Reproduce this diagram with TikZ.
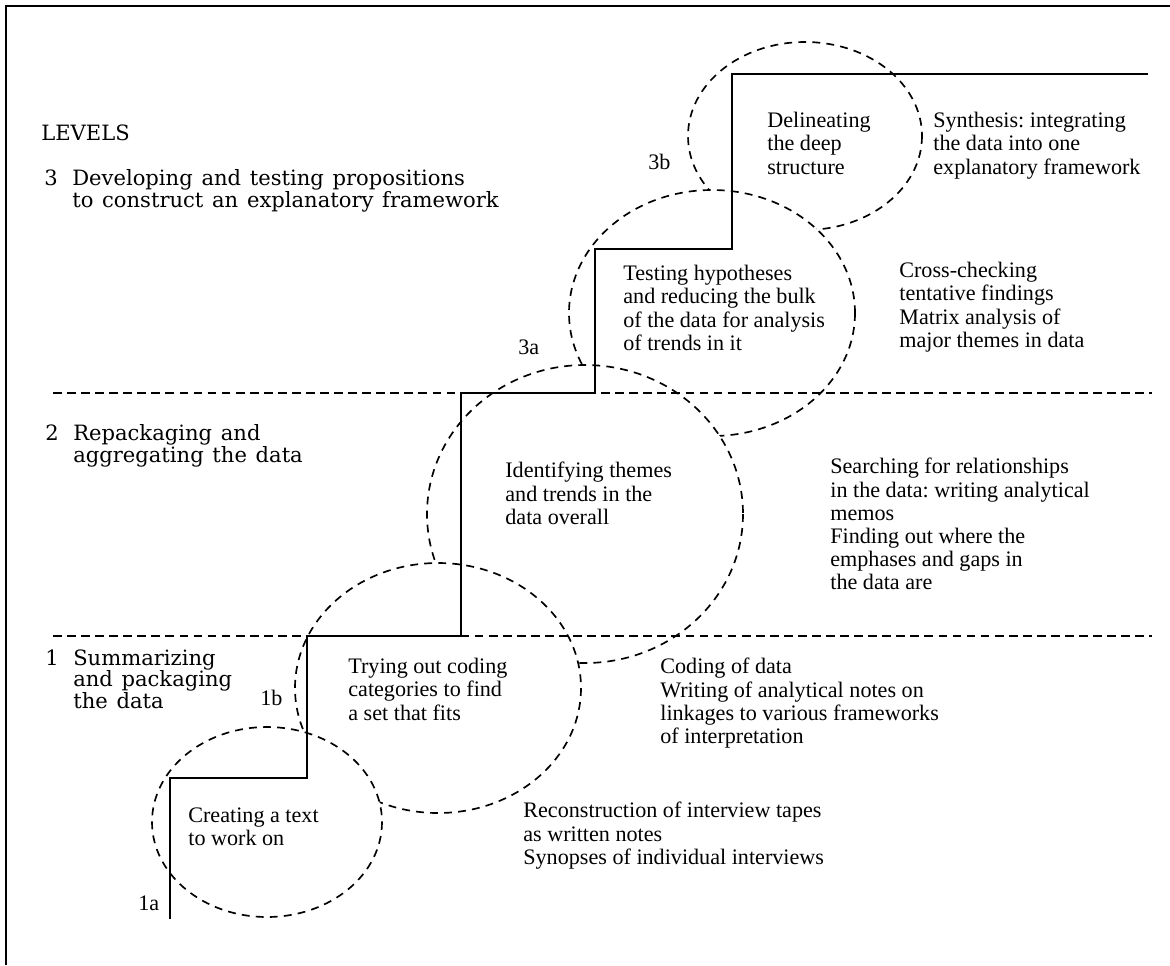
\documentclass[tikz,border=0pt]{standalone}
\usepackage{fontspec}
\setmainfont{Liberation Serif}
\newfontfamily\levelfont{DejaVu Serif}[WordSpace=1.3]
\newcommand{\lvnum}[1]{\makebox[15.9pt][l]{#1}}
\frenchspacing

\tikzset{
  phase/.style={draw, dash pattern=on 4.5pt off 3.5pt, line width=0.95pt, fill=white},
  levelline/.style={draw, dash pattern=on 5pt off 3pt, line width=0.95pt},
  stair/.style={draw, line width=0.85pt},
  frameline/.style={draw, line width=1pt},
  txt/.style={anchor=north west, inner sep=0pt, align=left, font=\fontsize{12.6}{13.2}\selectfont},
  lvl/.style={anchor=north west, inner sep=0pt, align=left, font=\levelfont\fontsize{12}{12.5}\selectfont},
  tag/.style={anchor=west, inner sep=0pt, font=\fontsize{12.6}{13}\selectfont}
}

\begin{document}
\begin{tikzpicture}[x=0.02cm,y=-0.02cm]
  \useasboundingbox (0,0) rectangle (1170,965);
  % circles, the lower stage lies over the upper one
  \draw[phase] (805,136) ellipse [x radius=117,y radius=94];
  \draw[phase] (712,313) ellipse [x radius=143,y radius=123];
  \draw[phase] (585,514) ellipse [x radius=158,y radius=149];
  \draw[phase] (438,688) ellipse [x radius=143,y radius=125];
  \draw[phase] (267,822) ellipse [x radius=115,y radius=95];
  % level boundaries
  \coordinate (l2a) at (53,393); \coordinate (l2b) at (1152,393);
  \coordinate (l1a) at (53,636); \coordinate (l1b) at (1152,636);
  \draw[levelline] (l2a) -- (l2b); \draw[levelline] (l1a) -- (l1b);
  % staircase
  \coordinate (s0) at (170,919); \coordinate (s1) at (170,778); \coordinate (s2) at (307,778);
  \coordinate (s3) at (307,636); \coordinate (s4) at (461,636); \coordinate (s5) at (461,393);
  \coordinate (s6) at (595,393); \coordinate (s7) at (595,249); \coordinate (s8) at (732,249);
  \coordinate (s9) at (732,74); \coordinate (s10) at (1148,74);
  \draw[stair] (s0) -- (s1) -- (s2) -- (s3) -- (s4) -- (s5) -- (s6) -- (s7) -- (s8) -- (s9) -- (s10);
  % frame
  \coordinate (fr) at (1170,6); \coordinate (fc) at (6,6); \coordinate (fb) at (6,965);
  \draw[frameline] (fr) -- (fc) -- (fb);
  % levels
  \node[lvl,anchor=west] (levels) at (41,133) {LEVELS};
  \node[lvl] (lv3) at (44,169) {\lvnum{3}Developing and testing propositions\\\hspace*{15.9pt}to construct an explanatory framework};
  \node[lvl] (lv2) at (45,424) {\lvnum{2}Repackaging and\\\hspace*{15.9pt}aggregating the data};
  \node[lvl] (lv1) at (45,649) {\lvnum{1}Summarizing\\\hspace*{15.9pt}and packaging\\\hspace*{15.9pt}the data};
  % stage labels
  \node[tag] (n3b) at (648,162) {3b}; \node[tag] (n3a) at (518,347) {3a};
  \node[tag] (n1b) at (260,698) {1b}; \node[tag] (n1a) at (138,903) {1a};
  % inside the circles
  \node[txt] (delin) at (767,112) {Delineating\\the deep\\structure};
  \node[txt] (testing) at (623,265) {Testing hypotheses\\and reducing the bulk\\of the data for analysis\\of trends in it};
  \node[txt] (ident) at (505,462) {Identifying themes\\and trends in the\\data overall};
  \node[txt] (trying) at (348,658) {Trying out coding\\categories to find\\a set that fits};
  \node[txt] (creating) at (188,807) {Creating a text\\to work on};
  % activities
  \node[txt] (synth) at (933,112) {Synthesis: integrating\\the data into one\\explanatory framework};
  \node[txt] (cross) at (899,262) {Cross-checking\\tentative findings\\Matrix analysis of\\major themes in data};
  \node[txt] (search) at (830,458) {Searching for relationships\\in the data: writing analytical\\memos\\Finding out where the\\emphases and gaps in\\the data are};
  \node[txt] (coding) at (660,658) {Coding of data\\Writing of analytical notes on\\linkages to various frameworks\\of interpretation};
  \node[txt] (recon) at (523,802) {Reconstruction of interview tapes\\as written notes\\Synopses of individual interviews};
\end{tikzpicture}
\end{document}
